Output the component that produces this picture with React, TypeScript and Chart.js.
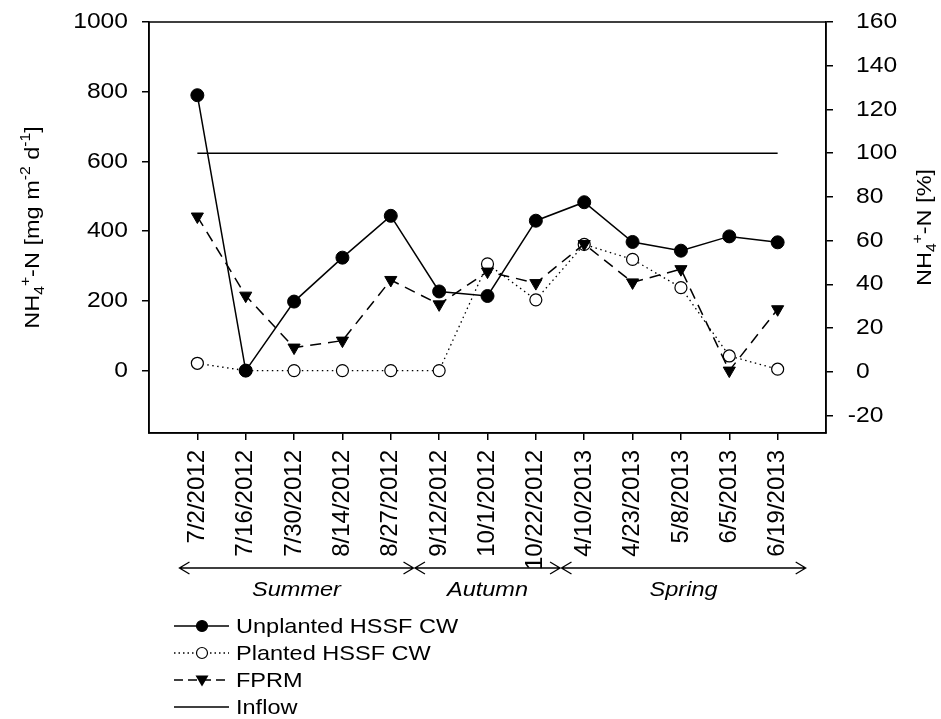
import React, { useEffect, useRef } from "react";
import { Chart, registerables } from "chart.js";

Chart.register(...registerables);

// Sampling dates (category positions 0..12)
const dates = [
  "7/2/2012", "7/16/2012", "7/30/2012", "8/14/2012", "8/27/2012",
  "9/12/2012", "10/1/2012", "10/22/2012", "4/10/2013", "4/23/2013",
  "5/8/2013", "6/5/2013", "6/19/2013",
];

// NH4+-N removal rates [mg m-2 d-1]
const unplanted = [790, 0, 198, 324, 444, 227, 214, 430, 483, 369, 344, 385, 368];
const planted = [21, 0, 0, 0, 0, 0, 306, 203, 362, 319, 238, 42, 4];
const fprm = [442, 215, 66, 86, 260, 190, 284, 251, 363, 253, 291, 0, 176];

// Inflow reference level [%]
const inflow = [100, 100, 100, 100, 100, 100, 100, 100, 100, 100, 100, 100, 100];

// Axis ticks
const leftTicks = [0, 200, 400, 600, 800, 1000];
const rightTicks = [-20, 0, 20, 40, 60, 80, 100, 120, 140, 160];

// Seasons, spanning category positions
const seasons = ["Summer", "Autumn", "Spring"];
const seasonStart = [-0.37, 4.5, 7.53];
const seasonEnd = [4.47, 7.5, 12.58];

const FONT = '"Liberation Sans", Arial, sans-serif';
const TEXT_SIZE = 22;
const WIDE = 1.12; // glyph widening along the text direction

type Part = { t: string; k?: "sub" | "sup" };

function drawText(
  ctx: CanvasRenderingContext2D,
  text: string,
  x: number,
  y: number,
  align: CanvasTextAlign,
  size = TEXT_SIZE,
  italic = false
) {
  ctx.save();
  ctx.translate(x, y);
  ctx.scale(WIDE, 1);
  ctx.font = `${italic ? "italic " : ""}${size}px ${FONT}`;
  ctx.fillStyle = "#000";
  ctx.textAlign = align;
  ctx.textBaseline = "middle";
  ctx.fillText(text, 0, 0);
  ctx.restore();
}

function drawRich(
  ctx: CanvasRenderingContext2D,
  parts: Part[],
  cx: number,
  cy: number,
  size: number
) {
  const small = Math.round(size * 0.66);
  ctx.save();
  ctx.translate(cx, cy);
  ctx.rotate(-Math.PI / 2);
  ctx.scale(WIDE, 1);
  ctx.fillStyle = "#000";
  ctx.textBaseline = "alphabetic";
  ctx.textAlign = "left";
  const widths = parts.map((p) => {
    ctx.font = `${p.k ? small : size}px ${FONT}`;
    return ctx.measureText(p.t).width;
  });
  const total = widths.reduce((a, b) => a + b, 0);
  let x = -total / 2;
  const base = size * 0.36;
  parts.forEach((p, i) => {
    ctx.font = `${p.k ? small : size}px ${FONT}`;
    let y = base;
    if (p.k === "sub") y = base + size * 0.28;
    if (p.k === "sup") y = base - size * 0.42;
    ctx.fillText(p.t, x, y);
    x += widths[i];
  });
  ctx.restore();
}

const decorPlugin = {
  id: "decor",
  afterDraw(chart: any) {
    const { ctx, chartArea } = chart;
    const xs = chart.scales.x;
    const ys = chart.scales.y;
    const ys2 = chart.scales.y2;

    // frame around the plot area
    ctx.save();
    ctx.strokeStyle = "#000";
    ctx.lineWidth = 1.5;
    ctx.strokeRect(chartArea.left, chartArea.top, chartArea.right - chartArea.left, chartArea.bottom - chartArea.top);
    ctx.restore();

    // y tick labels
    leftTicks.forEach((v) => {
      drawText(ctx, String(v), chartArea.left - 21, ys.getPixelForValue(v), "right");
    });
    ctx.save();
    ctx.font = `${TEXT_SIZE}px ${FONT}`;
    const minusW = ctx.measureText("-").width * WIDE;
    ctx.restore();
    rightTicks.forEach((v) => {
      const x0 = chartArea.right + 30 - (v < 0 ? minusW : 0);
      drawText(ctx, String(v), x0, ys2.getPixelForValue(v), "left");
    });

    // axis titles
    drawRich(
      ctx,
      [
        { t: "NH" }, { t: "4", k: "sub" }, { t: "+", k: "sup" }, { t: "-N [mg m" },
        { t: "-2", k: "sup" }, { t: " d" }, { t: "-1", k: "sup" }, { t: "]" },
      ],
      31, (chartArea.top + chartArea.bottom) / 2, 21
    );
    drawRich(
      ctx,
      [{ t: "NH" }, { t: "4", k: "sub" }, { t: "+", k: "sup" }, { t: "-N [%]" }],
      923, (chartArea.top + chartArea.bottom) / 2, 21
    );

    // season arrows
    const ay = 568;
    ctx.save();
    ctx.strokeStyle = "#000";
    ctx.lineWidth = 1.3;
    seasons.forEach((name, i) => {
      const x0 = xs.getPixelForValue(seasonStart[i]);
      const x1 = xs.getPixelForValue(seasonEnd[i]);
      ctx.beginPath();
      ctx.moveTo(x0, ay);
      ctx.lineTo(x1, ay);
      ctx.moveTo(x0 + 10, ay - 6);
      ctx.lineTo(x0, ay);
      ctx.lineTo(x0 + 10, ay + 6);
      ctx.moveTo(x1 - 10, ay - 6);
      ctx.lineTo(x1, ay);
      ctx.lineTo(x1 - 10, ay + 6);
      ctx.stroke();
      drawText(ctx, name, (x0 + x1) / 2, ay + 22, "center", 21, true);
    });
    ctx.restore();

    // legend
    const rows = [
      { label: "Unplanted HSSF CW", dash: [], marker: "fcircle" },
      { label: "Planted HSSF CW", dash: [1.5, 3], marker: "ocircle" },
      { label: "FPRM", dash: [9, 5], marker: "tri" },
      { label: "Inflow", dash: [], marker: "" },
    ];
    const lx0 = 174, lx1 = 229, mx = 202, tx = 236;
    rows.forEach((r, i) => {
      const y = 626 + i * 27;
      ctx.save();
      ctx.strokeStyle = "#000";
      ctx.lineWidth = 1.3;
      ctx.setLineDash(r.dash);
      ctx.beginPath();
      ctx.moveTo(lx0, y);
      ctx.lineTo(lx1, y);
      ctx.stroke();
      ctx.setLineDash([]);
      if (r.marker === "fcircle" || r.marker === "ocircle") {
        ctx.beginPath();
        ctx.arc(mx, y, 5.5, 0, Math.PI * 2);
        ctx.fillStyle = r.marker === "fcircle" ? "#000" : "#fff";
        ctx.fill();
        ctx.lineWidth = 1.2;
        ctx.stroke();
      } else if (r.marker === "tri") {
        ctx.beginPath();
        ctx.moveTo(mx - 6.5, y - 4.5);
        ctx.lineTo(mx + 6.5, y - 4.5);
        ctx.lineTo(mx, y + 6.5);
        ctx.closePath();
        ctx.fillStyle = "#000";
        ctx.fill();
      }
      ctx.restore();
      drawText(ctx, r.label, tx, y + 1, "left", 21);
    });
  },
};

const zeroPad = (s: any) => {
  s.paddingTop = 0;
  s.paddingBottom = 0;
};

export default function App() {
  const ref = useRef<HTMLCanvasElement>(null);

  useEffect(() => {
    if (!ref.current) return;
    const pts = (arr: number[]) => arr.map((v, i) => ({ x: i, y: v }));
    const tickGrid = { drawOnChartArea: false, drawTicks: true, tickLength: 7, color: "#000", lineWidth: 1.5 };

    const chart = new Chart(ref.current, {
      type: "line",
      data: {
        datasets: [
          {
            label: "Unplanted HSSF CW",
            data: pts(unplanted),
            yAxisID: "y",
            borderColor: "#000",
            borderWidth: 1.5,
            pointStyle: "circle",
            pointRadius: 6.5,
            pointBackgroundColor: "#000",
            pointBorderColor: "#000",
            pointBorderWidth: 1,
            tension: 0,
          },
          {
            label: "FPRM",
            data: pts(fprm),
            yAxisID: "y",
            borderColor: "#000",
            borderWidth: 1.5,
            borderDash: [11, 7],
            pointStyle: "triangle",
            pointRotation: 180,
            pointRadius: 7,
            pointBackgroundColor: "#000",
            pointBorderColor: "#000",
            pointBorderWidth: 1,
            tension: 0,
          },
          {
            label: "Planted HSSF CW",
            data: pts(planted),
            yAxisID: "y",
            borderColor: "#000",
            borderWidth: 1.3,
            borderDash: [1.5, 3.5],
            pointStyle: "circle",
            pointRadius: 6,
            pointBackgroundColor: "#fff",
            pointBorderColor: "#000",
            pointBorderWidth: 1.2,
            tension: 0,
          },
          {
            label: "Inflow",
            data: pts(inflow),
            yAxisID: "y2",
            borderColor: "#000",
            borderWidth: 1.5,
            pointRadius: 0,
            tension: 0,
          },
        ],
      },
      options: {
        animation: false,
        responsive: false,
        maintainAspectRatio: false,
        events: [],
        layout: { padding: { top: 22, left: 0, right: 0, bottom: 0 } },
        plugins: { legend: { display: false }, tooltip: { enabled: false } },
        scales: {
          x: {
            type: "linear",
            min: -1,
            max: 13,
            afterBuildTicks: (s: any) => {
              s.ticks = dates.map((_, i) => ({ value: i }));
            },
            afterFit: (s: any) => {
              s.height = 286;
              s.paddingLeft = 0;
              s.paddingRight = 0;
            },
            ticks: {
              autoSkip: false,
              minRotation: 90,
              maxRotation: 90,
              padding: 10,
              color: "#000",
              font: { family: FONT, size: 24 },
              callback: (v: any) => dates[v as number] ?? "",
            },
            grid: tickGrid,
            border: { color: "#000", width: 1.5 },
          },
          y: {
            position: "left",
            min: -179,
            max: 1000,
            afterBuildTicks: (s: any) => {
              s.ticks = leftTicks.map((v) => ({ value: v }));
            },
            afterFit: (s: any) => {
              s.width = 149;
              zeroPad(s);
            },
            ticks: { display: false },
            grid: tickGrid,
            border: { color: "#000", width: 1.5 },
          },
          y2: {
            position: "right",
            min: -28,
            max: 160,
            afterBuildTicks: (s: any) => {
              s.ticks = rightTicks.map((v) => ({ value: v }));
            },
            afterFit: (s: any) => {
              s.width = 115;
              zeroPad(s);
            },
            ticks: { display: false },
            grid: tickGrid,
            border: { color: "#000", width: 1.5 },
          },
        },
      },
      plugins: [decorPlugin],
    } as any);

    return () => chart.destroy();
  }, []);

  return (
    <div style={{ position: "fixed", left: 0, top: 0, width: 941, height: 719, background: "#fff" }}>
      <canvas ref={ref} width={941} height={719} style={{ display: "block", width: 941, height: 719 }} />
    </div>
  );
}
